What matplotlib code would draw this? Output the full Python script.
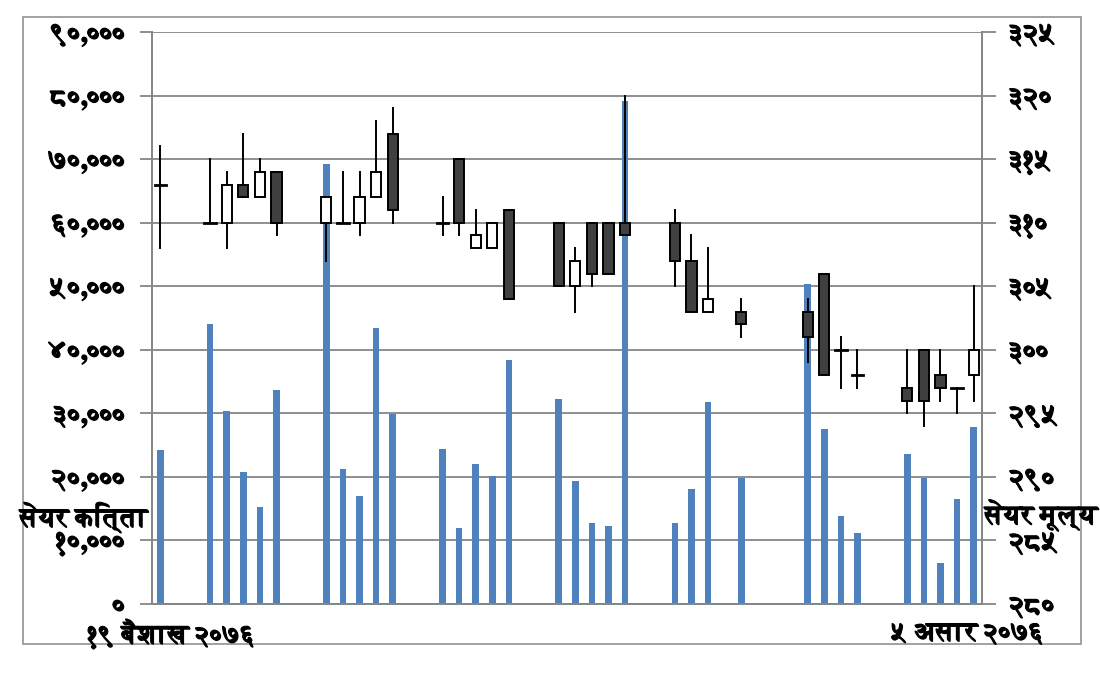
import matplotlib.pyplot as plt
import matplotlib.patches as mpatches
import matplotlib.patheffects as pe
from matplotlib import font_manager
from matplotlib.ft2font import FT2Font

# day offset from 19 Baishakh 2076 (weekends / holidays left empty)
days = [0, 3, 4, 5, 6, 7, 10, 11, 12, 13, 14, 17, 18, 19, 20, 21,
        24, 25, 26, 27, 28, 31, 32, 33, 35, 39, 40, 41, 42, 45, 46, 47, 48, 49]
volume = [24200, 44000, 30300, 20800, 15200, 33700, 69300, 21300, 17000, 43500, 29900,
          24400, 12000, 22000, 20200, 38400, 32300, 19400, 12800, 12200, 79200,
          12800, 18100, 31800, 19900, 50300, 27600, 13800, 11100, 23600, 19800, 6400, 16500, 27800]
open_p = [313, 310, 310, 313, 312, 314, 310, 310, 310, 312, 317, 310, 315, 308, 308, 311,
          310, 305, 310, 310, 310, 310, 307, 303, 303, 303, 306, 300, 298, 297, 300, 298, 297, 298]
high_p = [316, 315, 314, 317, 315, 314, 312, 314, 314, 318, 319, 312, 315, 311, 310, 311,
          310, 308, 310, 310, 320, 311, 309, 308, 304, 304, 306, 301, 300, 300, 300, 300, 297, 305]
low_p = [308, 310, 308, 312, 312, 309, 307, 310, 309, 312, 310, 309, 309, 308, 308, 304,
         305, 303, 305, 306, 309, 305, 303, 303, 301, 299, 298, 297, 297, 295, 294, 296, 295, 296]
close_p = [313, 310, 313, 312, 314, 310, 312, 310, 312, 314, 311, 310, 310, 309, 310, 304,
           305, 307, 306, 306, 309, 307, 303, 304, 302, 301, 298, 300, 298, 296, 296, 297, 297, 300]

vol_ticks = list(range(0, 90001, 10000))
vol_labels = ['०', '१०,०००', '२०,०००', '३०,०००', '४०,०००', '५०,०००', '६०,०००', '७०,०००', '८०,०००', '९०,०००']
price_ticks = list(range(280, 326, 5))
price_labels = ['२८०', '२८५', '२९०', '२९५', '३००', '३०५', '३१०', '३१५', '३२०', '३२५']


# pick a font with devanagari glyphs, rather not mono, rather bold
def find_deva():
    found = []
    for f in font_manager.fontManager.ttflist:
        try:
            if 0x0966 in FT2Font(f.fname).get_charmap():
                w = f.weight if isinstance(f.weight, int) else 400
                mono = 'mono' in f.name.lower() or 'mono' in f.fname.lower()
                found.append((mono, abs(w - 700), f.style != 'normal', f.fname))
        except Exception:
            pass
    if not found:
        return None
    found.sort()
    return found[0][3]


deva_file = find_deva()
if deva_file:
    fp = font_manager.FontProperties(fname=deva_file)
else:
    fp = font_manager.FontProperties(family='DejaVu Sans', weight='bold')

# thicken glyphs a little so they read as bold
bold = [pe.withStroke(linewidth=0.8, foreground='black')]

fig = plt.figure(figsize=(11, 6.74), dpi=100)
ax = fig.add_axes([0.1382, 0.1039, 0.7545, 0.8486])
ax2 = ax.twinx()

grid_c = '#868686'

# volume bars
ax.bar(days, volume, width=0.4, color='#4F81BD', zorder=2)
ax.set_ylim(0, 90000)
ax.set_xlim(-0.5, 49.5)
ax.set_yticks(vol_ticks)
ax.set_yticklabels(vol_labels, fontproperties=fp, fontsize=20, path_effects=bold)
ax.yaxis.grid(True, color=grid_c, linewidth=1.3, zorder=0)
ax.set_axisbelow(True)
ax.set_xticks([])
ax.tick_params(axis='y', length=9, width=1.3, color=grid_c, pad=10)

# candlesticks
for d, o, h, l, c in zip(days, open_p, high_p, low_p, close_p):
    ax2.plot([d, d], [l, h], color='black', linewidth=1.4, zorder=3)
    if o == c:
        ax2.plot([d - 0.35, d + 0.35], [o, c], color='black', linewidth=2, zorder=4)
    else:
        fill = 'white' if c > o else '#404040'
        ax2.add_patch(mpatches.Rectangle((d - 0.31, min(o, c)), 0.62, abs(c - o),
                                         facecolor=fill, edgecolor='black', linewidth=1.4, zorder=4))
ax2.set_ylim(280, 325)
ax2.set_yticks(price_ticks)
ax2.set_yticklabels(price_labels, fontproperties=fp, fontsize=20, path_effects=bold)
ax2.tick_params(axis='y', length=10, width=1.3, color=grid_c, pad=10)

for a in (ax, ax2):
    a.spines['top'].set_visible(False)
    for s in ('left', 'right', 'bottom'):
        a.spines[s].set_color(grid_c)
        a.spines[s].set_linewidth(1.3)

# axis titles and date labels
fig.text(20 / 1100, 1 - 518 / 674, 'सेयर कित्ता', fontproperties=fp, fontsize=19,
         ha='left', va='center', path_effects=bold)
fig.text(985 / 1100, 1 - 516 / 674, 'सेयर मूल्य', fontproperties=fp, fontsize=19,
         ha='left', va='center', path_effects=bold)
fig.text(88 / 1100, 1 - 634 / 674, '१९ बैशाख २०७६', fontproperties=fp, fontsize=19,
         ha='left', va='center', path_effects=bold)
fig.text(892 / 1100, 1 - 634 / 674, '५ असार २०७६', fontproperties=fp, fontsize=19,
         ha='left', va='center', path_effects=bold)

# outer border
fig.patches.append(mpatches.Rectangle((23 / 1100, 1 - 644 / 674), 1058 / 1100, 627 / 674,
                                      transform=fig.transFigure, fill=False,
                                      edgecolor='#9a9a9a', linewidth=1.3))

fig.savefig('out.png', dpi=100)
